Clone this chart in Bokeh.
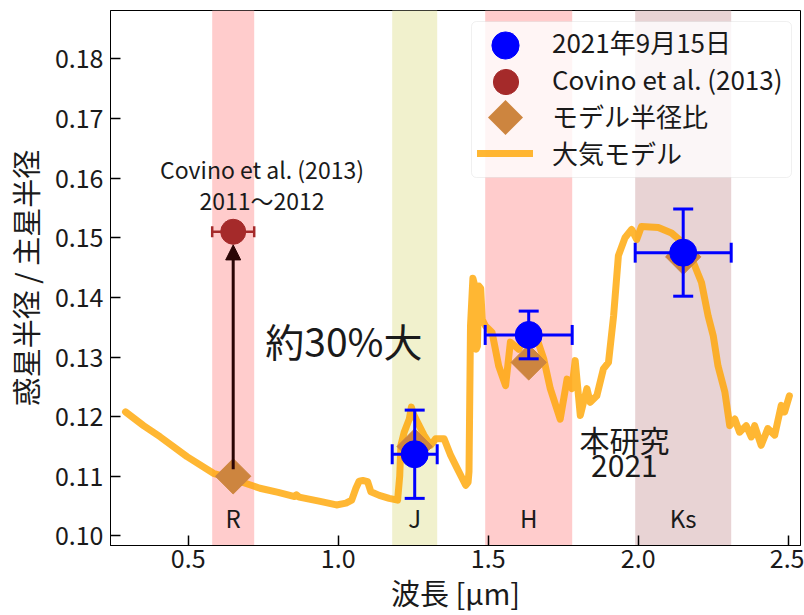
import numpy as np
from bokeh.plotting import figure
from bokeh.models import (ColumnDataSource, BoxAnnotation, Whisker, TeeHead, Arrow, NormalHead,
                          Label, Legend, LegendItem, FixedTicker, PrintfTickFormatter, Range1d,
                          PolyAnnotation)
from bokeh.embed import file_html
from bokeh.resources import INLINE

FONT = "Noto Sans CJK JP"

# photometric bands
band_names = ["R", "J", "H", "Ks"]
band_lo = [0.58, 1.18, 1.49, 1.99]
band_hi = [0.72, 1.33, 1.78, 2.31]
band_colors = ["#ffcccc", "#f1f1cd", "#ffcccc", "#e8d3d4"]

# this work (2021-09-15)
obs_band = [1, 2, 3]
obs_rp = [0.1137, 0.1337, 0.1475]
obs_err = [0.0074, 0.0040, 0.0073]

# Covino et al. (2013)
cov_band = [0]
cov_rp = [0.151]

# model radius ratio
mod_wl = [0.65, 1.255, 1.635, 2.15]
mod_rp = [0.1100, 0.1150, 0.1291, 0.1468]

# atmosphere model spectrum
atm_wl = [0.291, 0.351, 0.407, 0.496, 0.584, 0.651, 0.739, 0.800, 0.855, 0.861, 0.870, 0.940,
          0.994, 1.026, 1.045, 1.059, 1.070, 1.082, 1.098, 1.109, 1.137, 1.170, 1.198, 1.205,
          1.209, 1.220, 1.237, 1.244, 1.250, 1.264, 1.286, 1.308, 1.325, 1.353, 1.375, 1.397,
          1.425, 1.433, 1.436, 1.441, 1.449, 1.455, 1.460, 1.464, 1.469, 1.475, 1.480, 1.491,
          1.513, 1.535, 1.558, 1.574, 1.602, 1.629, 1.663, 1.685, 1.707, 1.740, 1.763, 1.779,
          1.790, 1.807, 1.829, 1.840, 1.862, 1.884, 1.901, 1.918, 1.934, 1.956, 1.978, 1.995,
          2.011, 2.067, 2.111, 2.144, 2.178, 2.211, 2.233, 2.250, 2.266, 2.289, 2.305, 2.322,
          2.338, 2.360, 2.377, 2.388, 2.410, 2.432, 2.455, 2.477, 2.488, 2.504]
atm_rp = [0.1208, 0.1185, 0.1166, 0.1133, 0.1105, 0.1095, 0.1080, 0.1073, 0.1066, 0.1069, 0.1065, 0.1058,
          0.1052, 0.1055, 0.1060, 0.1080, 0.1092, 0.1093, 0.1091, 0.1074, 0.1068, 0.1063, 0.1060, 0.1100,
          0.1152, 0.1174, 0.1196, 0.1216, 0.1205, 0.1191, 0.1169, 0.1152, 0.1163, 0.1163, 0.1135, 0.1113,
          0.1085, 0.1090, 0.1108, 0.1352, 0.1432, 0.1420, 0.1313, 0.1318, 0.1419, 0.1415, 0.1363, 0.1352,
          0.1341, 0.1285, 0.1252, 0.1325, 0.1313, 0.1341, 0.1330, 0.1297, 0.1247, 0.1196, 0.1263, 0.1247,
          0.1294, 0.1202, 0.1247, 0.1224, 0.1235, 0.1280, 0.1291, 0.1369, 0.1470, 0.1500, 0.1514, 0.1497,
          0.1519, 0.1517, 0.1508, 0.1494, 0.1466, 0.1425, 0.1369, 0.1336, 0.1285, 0.1241, 0.1185, 0.1196,
          0.1174, 0.1185, 0.1166, 0.1185, 0.1152, 0.1180, 0.1169, 0.1219, 0.1208, 0.1235]

x_ticks = [0.5, 1.0, 1.5, 2.0, 2.5]
y_ticks = [0.10, 0.11, 0.12, 0.13, 0.14, 0.15, 0.16, 0.17, 0.18]

band_c = [(a + b) / 2 for a, b in zip(band_lo, band_hi)]

FRAME_H = 537  # 615 - top 10 - bottom 68
p = figure(width=804, height=615, x_range=Range1d(0.241, 2.541), y_range=Range1d(0.0984, 0.1881),
           output_backend="svg", toolbar_location=None,
           min_border_left=107, min_border_right=4, min_border_top=10, min_border_bottom=68)
p.xgrid.visible = False
p.ygrid.visible = False
p.outline_line_color = "black"
p.outline_line_width = 1
p.background_fill_color = "white"

for ax in (p.xaxis[0], p.yaxis[0]):
    ax.major_tick_in = 10
    ax.major_tick_out = 0
    ax.minor_tick_in = 0
    ax.minor_tick_out = 0
    ax.major_tick_line_width = 1.5
    ax.major_tick_line_color = "black"
    ax.axis_line_color = "black"
    ax.major_label_text_font = FONT
    ax.major_label_text_font_size = "25px"
    ax.major_label_text_color = "#1a1a1a"
    ax.axis_label_text_font = FONT
    ax.axis_label_text_font_size = "29px"
    ax.axis_label_text_font_style = "normal"
    ax.axis_label_text_color = "#1a1a1a"

p.xaxis.ticker = FixedTicker(ticks=x_ticks)
p.yaxis.ticker = FixedTicker(ticks=y_ticks)
p.xaxis.formatter = PrintfTickFormatter(format="%.1f")
p.yaxis.formatter = PrintfTickFormatter(format="%.2f")
p.xaxis.axis_label = "波長 [μm]"
p.yaxis.axis_label = "惑星半径 / 主星半径"
p.yaxis.major_label_standoff = 7
p.yaxis.axis_label_standoff = 6
p.xaxis.major_label_standoff = 3
p.xaxis.axis_label_standoff = 0

# bands
for lo, hi, col in zip(band_lo, band_hi, band_colors):
    p.add_layout(BoxAnnotation(left=lo, right=hi, fill_color=col, fill_alpha=1.0,
                               line_alpha=0, level="underlay"))

# model spectrum
line_r = p.line(atm_wl, atm_rp, line_color="orange", line_alpha=0.8, line_width=7,
                line_join="round", line_cap="round")

# model radius ratio diamonds
DIA_COL = "#cd853f"
dia_r = p.scatter(mod_wl, mod_rp, marker="square", angle=np.pi / 4, size=25,
                  fill_color=DIA_COL, line_color=DIA_COL)

# Covino point
cov_src = ColumnDataSource(dict(
    x=[band_c[i] for i in cov_band], y=cov_rp,
    lo=[band_lo[i] for i in cov_band], hi=[band_hi[i] for i in cov_band]))
p.add_layout(Whisker(source=cov_src, base="y", lower="lo", upper="hi", dimension="width",
                     line_color="#a52a2a", line_width=2.5, level="annotation",
                     lower_head=TeeHead(size=11, line_color="#a52a2a", line_width=2.5),
                     upper_head=TeeHead(size=11, line_color="#a52a2a", line_width=2.5)))
red_r = p.scatter("x", "y", source=cov_src, size=25, fill_color="#a52a2a", line_color="#a52a2a")

# this work
obs_src = ColumnDataSource(dict(
    x=[band_c[i] for i in obs_band], y=obs_rp,
    ylo=[v - e for v, e in zip(obs_rp, obs_err)], yhi=[v + e for v, e in zip(obs_rp, obs_err)],
    xlo=[band_lo[i] for i in obs_band], xhi=[band_hi[i] for i in obs_band]))
for kw in (dict(base="x", lower="ylo", upper="yhi", dimension="height"),
           dict(base="y", lower="xlo", upper="xhi", dimension="width")):
    p.add_layout(Whisker(source=obs_src, line_color="blue", line_width=3, level="annotation",
                         lower_head=TeeHead(size=20, line_color="blue", line_width=3),
                         upper_head=TeeHead(size=20, line_color="blue", line_width=3), **kw))
blue_r = p.scatter("x", "y", source=obs_src, size=27, fill_color="blue", line_color="blue")

# invisible stand-in for the diamond legend entry (the swatch is drawn below)
dia_key = p.scatter([], [], marker="square", size=1, fill_alpha=0, line_alpha=0)

# arrow from model to Covino
arr_col = "#2a0505"
p.add_layout(Arrow(end=NormalHead(size=15, fill_color=arr_col, line_color=arr_col),
                   x_start=mod_wl[0], y_start=mod_rp[0] + 0.0012,
                   x_end=band_c[cov_band[0]], y_end=cov_rp[0] - 0.0022,
                   line_color=arr_col, line_width=3))

# texts
def lab(x, y, t, size, align="center"):
    p.add_layout(Label(x=x, y=y, text=t, text_font=FONT, text_font_size=size,
                       text_align=align, text_baseline="middle", text_color="#1a1a1a"))

lab(0.746, 0.1615, "Covino et al. (2013)", "23px")
lab(0.746, 0.1563, "2011～2012", "23px")
lab(0.757, 0.1328, "約30%大", "39px", "left")
lab(1.954, 0.1163, "本研究", "30px")
lab(1.954, 0.1117, "2021", "30px")
for name, c in zip(band_names, band_c):
    lab(c, 0.1031, name, "24px")

# legend frame (drawn as a box so the enlarged swatches can sit on top of it)
LEG_LEFT, LEG_TOP, LEG_PAD, ROW_H, LEG_W = 361, 13, 6, 36, 320
LEG_H = 2 * LEG_PAD + 4 * ROW_H
p.add_layout(BoxAnnotation(left=LEG_LEFT, right=LEG_LEFT + LEG_W,
                           top=FRAME_H - LEG_TOP, bottom=FRAME_H - LEG_TOP - LEG_H,
                           left_units="screen", right_units="screen",
                           top_units="screen", bottom_units="screen",
                           fill_color="white", fill_alpha=0.8, line_color="#cccccc",
                           line_width=1, border_radius=5, level="annotation"))

# enlarged diamond swatch
sw_cx = LEG_LEFT + LEG_PAD + 28                                     # frame px from left
row_cy = [LEG_TOP + LEG_PAD + ROW_H * (i + 0.5) for i in range(3)]  # frame px from top
hd = 17.5
dy = FRAME_H - row_cy[2]
p.add_layout(PolyAnnotation(xs=[sw_cx, sw_cx + hd, sw_cx, sw_cx - hd],
                            ys=[dy + hd, dy, dy - hd, dy],
                            xs_units="screen", ys_units="screen", level="annotation",
                            fill_color=DIA_COL, fill_alpha=1.0, line_alpha=0))

# legend labels and line swatch
legend = Legend(items=[LegendItem(label="2021年9月15日", renderers=[blue_r]),
                       LegendItem(label="Covino et al. (2013)", renderers=[red_r]),
                       LegendItem(label="モデル半径比", renderers=[dia_key]),
                       LegendItem(label="大気モデル", renderers=[line_r])],
                location=(LEG_LEFT, FRAME_H - LEG_TOP - LEG_H),
                glyph_width=56, glyph_height=30, label_height=30, spacing=0, padding=LEG_PAD,
                label_standoff=19, label_text_font=FONT, label_text_font_size="26px",
                label_text_color="#1a1a1a",
                border_line_alpha=0, background_fill_alpha=0)
p.add_layout(legend)

# enlarged circle swatches (Bokeh legend markers scale with the glyph box)
for rend, g, cy in ((blue_r, 68, row_cy[0]), (red_r, 63, row_cy[1])):
    p.add_layout(Legend(items=[LegendItem(label=" ", renderers=[rend])],
                        location=(sw_cx - g / 2, FRAME_H - cy - g / 2),
                        glyph_width=g, glyph_height=g, label_height=1, spacing=0, padding=0,
                        label_standoff=0, label_text_font_size="1px",
                        background_fill_alpha=0, border_line_alpha=0))

open("out.html", "w").write(file_html(p, INLINE))
